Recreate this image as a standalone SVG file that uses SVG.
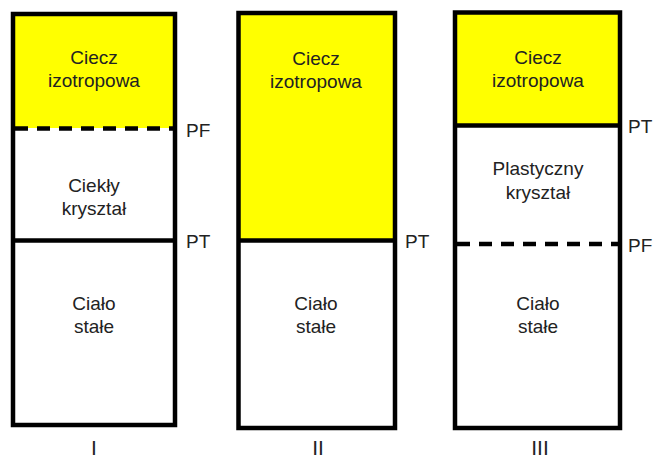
<svg xmlns="http://www.w3.org/2000/svg" width="654" height="460" viewBox="0 0 654 460">
<style>
.box{fill:none;stroke:#000;stroke-width:4.5}
.fill{fill:#FFFF00}
.solid{stroke:#000;stroke-width:4.5}
.dash{stroke:#000;stroke-width:4.5;stroke-dasharray:13 9}
text{font-family:"Liberation Sans",Arial,sans-serif;fill:#222}
.lbl{font-size:19px;text-anchor:middle}
.mark{font-size:19px}
.num{font-size:21px;text-anchor:middle}
</style>
<rect width="654" height="460" fill="#fff"/>
<g id="column-I">
<rect class="fill" x="13" y="14" width="162" height="114"/>
<line class="dash" x1="15" y1="128.5" x2="175" y2="128.5"/>
<line class="solid" x1="13" y1="240.5" x2="175" y2="240.5"/>
<rect class="box" x="13" y="14" width="162" height="411"/>
<text class="lbl" x="94" y="64">Ciecz</text>
<text class="lbl" x="94" y="87">izotropowa</text>
<text class="lbl" x="94" y="192">Ciekły</text>
<text class="lbl" x="94" y="215">kryształ</text>
<text class="lbl" x="94" y="310">Ciało</text>
<text class="lbl" x="94" y="333">stałe</text>
<text class="mark" x="186" y="137">PF</text>
<text class="mark" x="186" y="248">PT</text>
<text class="num" x="94" y="455">I</text>
</g>
<g id="column-II">
<rect class="fill" x="238.5" y="13" width="156.5" height="227"/>
<line class="solid" x1="238.5" y1="240.5" x2="395" y2="240.5"/>
<rect class="box" x="238.5" y="13" width="156.5" height="415"/>
<text class="lbl" x="316" y="65">Ciecz</text>
<text class="lbl" x="316" y="88">izotropowa</text>
<text class="lbl" x="316" y="310">Ciało</text>
<text class="lbl" x="316" y="333">stałe</text>
<text class="mark" x="405" y="248">PT</text>
<text class="num" x="318" y="455">II</text>
</g>
<g id="column-III">
<rect class="fill" x="455" y="12.5" width="165" height="113"/>
<line class="solid" x1="455" y1="125.5" x2="620" y2="125.5"/>
<line class="dash" x1="457" y1="244" x2="620" y2="244"/>
<rect class="box" x="455" y="12.5" width="165" height="415.5"/>
<text class="lbl" x="538" y="64">Ciecz</text>
<text class="lbl" x="538" y="87">izotropowa</text>
<text class="lbl" x="538" y="175">Plastyczny</text>
<text class="lbl" x="538" y="199">kryształ</text>
<text class="lbl" x="538" y="310">Ciało</text>
<text class="lbl" x="538" y="333">stałe</text>
<text class="mark" x="628" y="133">PT</text>
<text class="mark" x="628" y="252">PF</text>
<text class="num" x="540" y="455">III</text>
</g>
</svg>
